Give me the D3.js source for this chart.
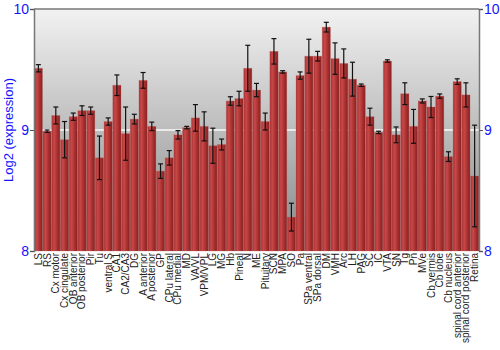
<!DOCTYPE html>
<html>
<head>
<meta charset="utf-8">
<script src="https://cdn.jsdelivr.net/npm/d3@7"></script>
<style>
  body { margin: 0; background: #fff; }
  svg { font-family: "Liberation Sans", Arial, sans-serif; }
</style>
</head>
<body>
<div id="chart"></div>
<script>
var tissues = ["LS", "RS", "Cx motor", "Cx cingulate", "OB anterior", "OB posterior", "Pir", "Tu",
  "ventral S", "CA1", "CA2/CA3", "DG", "A anterior", "A posterior", "GP", "CPu lateral", "CPu medial",
  "MD", "VA/VL", "VPM/VPL", "LG", "MG", "Hb", "Pineal", "N", "ME", "Pituitary", "SCN", "MPA", "SO",
  "Pa", "SPa ventral", "SPa dorsal", "DM", "VMH", "Arc", "LH", "PAG", "SC", "IC", "VTA", "SN", "Tg",
  "Pn", "MVe", "Cb vermis", "Cb lobe", "Cb nucleus", "spinal cord anterior", "spinal cord posterior", "Retina"];

var expr = [9.51, 8.99, 9.12, 8.92, 9.11, 9.16, 9.16, 8.77,
  9.07, 9.37, 8.97, 9.09, 9.41, 9.03, 8.66, 8.77, 8.96,
  9.02, 9.10, 9.03, 8.87, 8.88, 9.24, 9.26, 9.51, 9.33, 9.07, 9.65, 9.48, 8.28,
  9.45, 9.61, 9.61, 9.85, 9.59, 9.55, 9.42, 9.37, 9.11, 8.98, 9.57, 8.96, 9.30,
  9.03, 9.24, 9.19, 9.28, 8.78, 9.40, 9.29, 8.62];

var errs = [0.03, 0.01, 0.07, 0.15, 0.03, 0.04, 0.03, 0.18,
  0.03, 0.085, 0.22, 0.04, 0.065, 0.035, 0.06, 0.06, 0.035,
  0.01, 0.11, 0.12, 0.145, 0.045, 0.035, 0.06, 0.19, 0.055, 0.07, 0.105, 0.01, 0.115,
  0.03, 0.14, 0.04, 0.04, 0.13, 0.12, 0.14, 0.01, 0.07, 0.01, 0.01, 0.065, 0.09,
  0.14, 0.017, 0.087, 0.018, 0.04, 0.023, 0.1, 0.42];

var yTicks = [8, 9, 10];

var W = 500, H = 350,
    margin = {top: 9, right: 21, bottom: 99, left: 34},
    w = W - margin.left - margin.right,
    h = H - margin.top - margin.bottom;

var data = tissues.map(function(d, i) {
    return {name: d, v: expr[i], e: errs[i]};
});

var svg = d3.select("#chart").append("svg")
    .attr("width", W)
    .attr("height", H);

var defs = svg.append("defs");

var bg = defs.append("linearGradient").attr("id", "bg")
    .attr("x1", 0).attr("y1", 0).attr("x2", 0).attr("y2", 1);
bg.append("stop").attr("offset", "0%").attr("stop-color", "#f2f2f2");
bg.append("stop").attr("offset", "100%").attr("stop-color", "#868686");

var barGrad = defs.append("linearGradient").attr("id", "bar")
    .attr("x1", 0).attr("y1", 0).attr("x2", 1).attr("y2", 0);
barGrad.append("stop").attr("offset", "0%").attr("stop-color", "#a83232");
barGrad.append("stop").attr("offset", "30%").attr("stop-color", "#c84848");
barGrad.append("stop").attr("offset", "70%").attr("stop-color", "#a62e2e");
barGrad.append("stop").attr("offset", "100%").attr("stop-color", "#862020");

var g = svg.append("g")
    .attr("transform", "translate(" + margin.left + "," + margin.top + ")");

var x = d3.scaleBand()
    .domain(tissues)
    .range([0, w])
    .paddingInner(0.06)
    .paddingOuter(0.03);

var y = d3.scaleLinear()
    .domain([8, 10])
    .range([h, 0]);

g.append("rect")
    .attr("width", w)
    .attr("height", h)
    .attr("fill", "url(#bg)");

// white line at 9
g.selectAll("line.grid")
    .data([9])
    .enter().append("line")
    .attr("class", "grid")
    .attr("x1", 0).attr("x2", w)
    .attr("y1", function(d) { return y(d); })
    .attr("y2", function(d) { return y(d); })
    .attr("stroke", "#fafafa")
    .attr("stroke-width", 1.5);

g.selectAll("rect.bar")
    .data(data)
    .enter().append("rect")
    .attr("class", "bar")
    .attr("x", function(d) { return x(d.name); })
    .attr("width", x.bandwidth())
    .attr("y", function(d) { return y(d.v); })
    .attr("height", function(d) { return h - y(d.v); })
    .attr("fill", "url(#bar)")
    .attr("stroke", "#c06060")
    .attr("stroke-opacity", 0.35)
    .attr("stroke-width", 0.8);

var eb = g.selectAll("g.err")
    .data(data)
    .enter().append("g")
    .attr("class", "err")
    .attr("transform", function(d) { return "translate(" + (x(d.name) + x.bandwidth() / 2) + ",0)"; });

eb.append("line")
    .attr("y1", function(d) { return y(d.v + d.e); })
    .attr("y2", function(d) { return y(d.v - d.e); })
    .attr("stroke", "#111")
    .attr("stroke-width", 1.2);

eb.selectAll("line.cap")
    .data(function(d) { return [d.v + d.e, d.v - d.e]; })
    .enter().append("line")
    .attr("class", "cap")
    .attr("x1", -2.5).attr("x2", 2.5)
    .attr("y1", function(d) { return y(d); })
    .attr("y2", function(d) { return y(d); })
    .attr("stroke", "#111")
    .attr("stroke-width", 1.2);

// frame
g.append("line").attr("x1", 0).attr("x2", w).attr("y1", 0).attr("y2", 0)
    .attr("stroke", "#777").attr("stroke-width", 1.5);

var yLeft = g.append("g")
    .call(d3.axisLeft(y).tickValues(yTicks).tickFormat(d3.format("d")).tickSizeOuter(0).tickSize(4));
var yRight = g.append("g")
    .attr("transform", "translate(" + w + ",0)")
    .call(d3.axisRight(y).tickValues(yTicks).tickFormat(d3.format("d")).tickSizeOuter(0).tickSize(4));

[yLeft, yRight].forEach(function(ax) {
    ax.select(".domain").attr("stroke", "#777").attr("stroke-width", 1.5);
    ax.selectAll(".tick line").attr("stroke", "#555");
    ax.selectAll(".tick text")
        .attr("fill", "#1414ff")
        .style("font-size", "14px")
        .style("font-family", "Liberation Sans, Arial, sans-serif");
});
yLeft.selectAll(".tick text").attr("x", -5);
yRight.selectAll(".tick text").attr("x", 5);

// x labels
g.append("g")
    .attr("transform", "translate(0," + h + ")")
    .selectAll("text")
    .data(tissues)
    .enter().append("text")
    .attr("transform", function(d) {
        return "translate(" + (x(d) + x.bandwidth() / 2 + 3.5) + ",2) rotate(-90)";
    })
    .attr("text-anchor", "end")
    .attr("fill", "#222")
    .style("font-size", "10px")
    .text(function(d) { return d; });

svg.append("text")
    .attr("transform", "translate(13," + (margin.top + h / 2) + ") rotate(-90)")
    .attr("text-anchor", "middle")
    .attr("fill", "#1414ff")
    .style("font-size", "13px")
    .text("Log2 (expression)");
</script>
</body>
</html>
